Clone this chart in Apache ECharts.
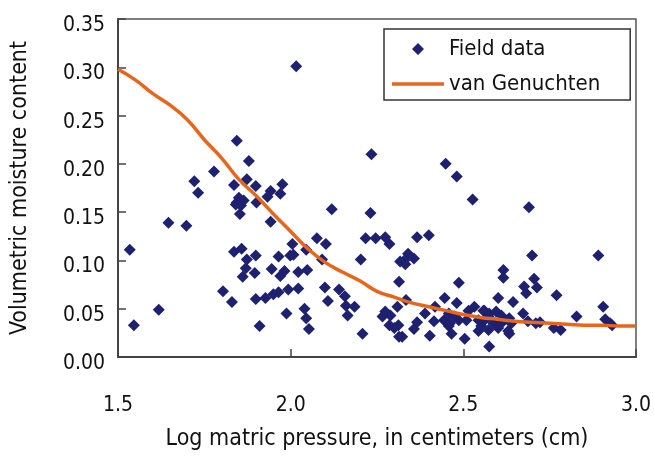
<!DOCTYPE html>
<html>
<head>
<meta charset="utf-8">
<script src="https://cdn.jsdelivr.net/npm/echarts@6/dist/echarts.min.js"></script>
<style>html,body{margin:0;padding:0;background:#fff}#c{width:654px;height:456px}</style>
</head>
<body>
<div id="c"></div>
<script>
// Field data: [log matric pressure, volumetric moisture content]
const fieldData = [
  [1.534,0.111],[1.546,0.033],[1.618,0.049],[1.646,0.139],[1.698,0.136],[1.721,0.182],[1.732,0.170],[1.778,0.192],[1.804,0.068],[1.830,0.057],
  [1.844,0.224],[1.879,0.203],[1.836,0.178],[1.873,0.184],[1.899,0.177],[1.942,0.172],[1.976,0.179],[1.970,0.169],[1.933,0.166],[1.844,0.160],
  [1.864,0.162],[1.856,0.157],[1.841,0.158],[1.850,0.165],[1.901,0.160],[1.853,0.148],[1.942,0.140],[2.016,0.301],
  [2.005,0.117],[1.836,0.109],[1.858,0.112],[1.899,0.105],[1.873,0.101],[1.965,0.104],[1.999,0.105],[1.870,0.092],[1.896,0.087],[1.945,0.091],
  [1.982,0.089],[1.970,0.084],[2.022,0.088],[1.861,0.083],[1.899,0.060],[1.927,0.061],[1.950,0.065],[1.965,0.067],[1.993,0.070],[2.022,0.071],
  [1.988,0.045],[1.910,0.032],
  [2.234,0.210],[2.119,0.153],[2.231,0.149],[2.076,0.123],[2.102,0.117],[2.217,0.123],[2.246,0.123],[2.274,0.124],[2.286,0.117],[2.045,0.111],
  [2.091,0.101],[2.203,0.101],[2.008,0.106],[2.048,0.090],[2.317,0.099],[2.099,0.072],[2.140,0.070],[2.108,0.058],[2.157,0.063],[2.160,0.053],
  [2.185,0.052],[2.165,0.043],[2.040,0.050],[2.045,0.040],[2.053,0.029],[2.208,0.024],[2.274,0.047],[2.289,0.043],[2.266,0.042],[2.309,0.052],
  [2.314,0.078],[2.286,0.033],[2.312,0.033],[2.314,0.021],
  [2.449,0.200],[2.481,0.187],[2.527,0.163],[2.366,0.124],[2.400,0.126],[2.340,0.107],[2.357,0.102],[2.329,0.100],[2.332,0.096],[2.487,0.077],
  [2.446,0.061],[2.418,0.052],[2.481,0.056],[2.389,0.045],[2.300,0.030],[2.366,0.036],[2.357,0.029],[2.415,0.037],[2.323,0.021],[2.403,0.022],
  [2.334,0.059],[2.444,0.038],[2.458,0.032],
  [2.458,0.045],[2.475,0.042],[2.461,0.035],[2.487,0.038],[2.515,0.048],[2.509,0.038],[2.532,0.052],[2.544,0.038],[2.561,0.048],[2.552,0.032],
  [2.573,0.042],[2.466,0.024],[2.504,0.019],[2.544,0.027],[2.575,0.011],
  [2.699,0.105],[2.616,0.090],[2.616,0.082],[2.705,0.081],[2.676,0.073],[2.713,0.072],[2.682,0.066],[2.770,0.064],[2.601,0.061],[2.644,0.057],
  [2.828,0.042],[2.558,0.048],[2.575,0.045],[2.595,0.047],[2.610,0.043],[2.633,0.040],[2.561,0.038],[2.587,0.035],[2.610,0.035],[2.639,0.035],
  [2.573,0.028],[2.601,0.030],[2.630,0.027],[2.673,0.045],[2.687,0.037],[2.710,0.035],[2.722,0.036],[2.762,0.030],[2.782,0.028],[2.633,0.024],
  [2.690,0.155],[2.891,0.105],[2.905,0.052],[2.911,0.039],[2.925,0.035],[2.931,0.033]
];

// van Genuchten fitted curve
const curveX = [1.50,1.55,1.60,1.65,1.70,1.75,1.80,1.85,1.90,1.95,2.00,2.05,2.10,2.15,2.20,2.25,2.30,2.35,2.40,2.45,2.50,2.55,2.60,2.65,2.70,2.75,2.80,2.85,2.90,2.95,3.00];
const curveY = [0.298,0.287,0.273,0.261,0.246,0.225,0.206,0.184,0.167,0.148,0.130,0.112,0.098,0.088,0.079,0.068,0.062,0.056,0.052,0.048,0.044,0.041,0.039,0.037,0.036,0.035,0.034,0.033,0.033,0.032,0.032];

const seriesNames = ['Field data', 'van Genuchten'];
const xTitle = 'Log matric pressure, in centimeters (cm)';
const yTitle = 'Volumetric moisture content';

const FONT = '"DejaVu Sans Condensed", "Liberation Sans", sans-serif';
const NAVY = '#1e2170';
const ORANGE = '#e8651c';
const chart = echarts.init(document.getElementById('c'), null, {renderer: 'canvas'});
chart.setOption({
  animation: false,
  backgroundColor: '#fff',
  grid: {left: 118, top: 19, right: 13, bottom: 92, show: true, borderColor: '#555', borderWidth: 1.5, backgroundColor: 'transparent'},
  legend: {
    left: 384, top: 29, orient: 'vertical',
    borderColor: '#333', borderWidth: 1.5,
    padding: [9, 30, 5, 8], itemGap: 13, itemWidth: 52, itemHeight: 12,
    textStyle: {fontFamily: FONT, fontSize: 22, color: '#111'},
    data: [
      {name: seriesNames[0], icon: 'path://M0,6L0.01,6M26,0L32,6L26,12L20,6ZM52,6L51.99,6', itemStyle: {color: NAVY, opacity: 1}},
      {name: seriesNames[1], icon: 'path://M0,0L0.01,0M0,4.3L52,4.3L52,7.7L0,7.7ZM52,12L51.99,12', itemStyle: {color: ORANGE, opacity: 1}}
    ]
  },
  xAxis: {
    type: 'value', min: 1.5, max: 3.0, interval: 0.5,
    name: xTitle, nameLocation: 'middle', nameGap: 71,
    nameTextStyle: {fontFamily: FONT, fontSize: 23, color: '#111'},
    axisLine: {show: true, lineStyle: {color: '#444', width: 2}},
    axisTick: {show: true, inside: true, length: 8, lineStyle: {color: '#444', width: 1.5}},
    axisLabel: {fontFamily: FONT, fontSize: 21, color: '#111', margin: 38, formatter: v => v.toFixed(1)},
    splitLine: {show: false}
  },
  yAxis: {
    type: 'value', min: 0, max: 0.35, interval: 0.05,
    name: yTitle, nameLocation: 'middle', nameGap: 86, nameRotate: 90,
    nameTextStyle: {fontFamily: FONT, fontSize: 23, color: '#111'},
    axisLine: {show: true, lineStyle: {color: '#444', width: 2}},
    axisTick: {show: true, inside: true, length: 8, lineStyle: {color: '#444', width: 1.5}},
    axisLabel: {fontFamily: FONT, fontSize: 21, color: '#111', margin: 13, verticalAlign: 'top', lineHeight: 13, formatter: v => v.toFixed(2)},
    splitLine: {show: false}
  },
  series: [
    {
      name: seriesNames[0], type: 'scatter', symbol: 'diamond', symbolSize: 12,
      itemStyle: {color: NAVY, opacity: 1},
      data: fieldData, z: 3
    },
    {
      name: seriesNames[1], type: 'line', smooth: true, showSymbol: false, symbol: 'none',
      lineStyle: {color: ORANGE, width: 3.5},
      itemStyle: {color: ORANGE},
      data: curveX.map((x, i) => [x, curveY[i]]), z: 4
    }
  ]
});
</script>
</body>
</html>
